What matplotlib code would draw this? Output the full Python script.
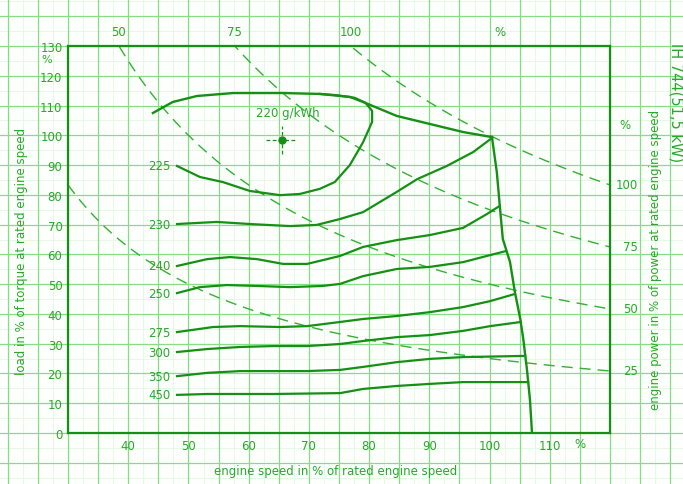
import numpy as np
import matplotlib.pyplot as plt

# engine map of the IH 744 (51,5 kW): speed / load in % of rated values
speed_ticks = [40, 50, 60, 70, 80, 90, 100, 110]
load_ticks = list(range(0, 131, 10))
power_levels = [25, 50, 75, 100]

full_load_speed = [44.1, 47.4, 51.4, 57.4, 65.7, 71.8, 76.8, 79.0, 84.6, 90.1, 95.6, 100.4]
full_load_load = [107.5, 111.2, 113.2, 114.2, 114.2, 113.9, 112.9, 111.2, 106.5, 103.8, 101.1, 99.4]

governor_speed = [100.4, 101.2, 101.7, 102.2, 103.4, 104.2, 105.1, 105.6, 106.2, 106.7, 107.05]
governor_load = [99.4, 87.7, 76.3, 65.2, 57.4, 47.4, 38.3, 31.6, 21.5, 11.4, 0]

# specific fuel consumption contours, g/kWh
c225_speed = [48.1, 51.9, 55.7, 60.2, 65.2, 68.5, 71.8, 74.3, 76.8, 79.0, 80.5, 80.5, 79.4, 77.6, 74.5, 71.8]
c225_load = [89.7, 86.0, 84.3, 81.3, 79.9, 80.3, 82.0, 84.3, 90.0, 97.7, 104.5, 108.2, 110.9, 112.6, 113.5, 113.9]
c230_speed = [48.1, 54.7, 60.2, 66.9, 71.3, 75.2, 79.0, 84.6, 88.0, 92.9, 97.3, 100.4]
c230_load = [70.2, 70.9, 70.2, 69.5, 69.9, 71.9, 74.2, 81.0, 85.3, 89.7, 94.4, 99.1]
c240_speed = [48.1, 53.1, 56.9, 61.4, 65.7, 69.7, 73.0, 75.2, 79.0, 84.6, 90.1, 95.6, 99.6, 101.7]
c240_load = [56.1, 58.4, 59.1, 58.4, 56.8, 56.8, 58.4, 59.5, 62.5, 64.8, 66.5, 68.9, 73.6, 76.3]
c250_speed = [48.1, 51.9, 56.4, 61.4, 66.9, 72.3, 75.2, 79.0, 84.6, 90.1, 95.6, 99.6, 102.7]
c250_load = [47.0, 49.0, 49.7, 49.4, 49.0, 49.4, 50.1, 52.7, 55.1, 55.8, 57.4, 59.5, 61.1]
c275_speed = [48.1, 54.1, 58.6, 65.2, 69.7, 75.2, 79.0, 84.6, 90.1, 95.6, 100.1, 104.2]
c275_load = [33.9, 35.6, 35.9, 35.6, 35.9, 37.3, 38.3, 39.3, 40.6, 42.3, 44.3, 46.7]
c300_speed = [48.1, 53.1, 58.6, 64.0, 69.7, 75.2, 79.0, 84.6, 90.1, 95.6, 100.1, 105.2]
c300_load = [27.2, 28.2, 28.9, 29.2, 29.2, 29.9, 30.9, 32.2, 32.9, 34.3, 35.9, 37.3]
c350_speed = [48.1, 53.1, 58.6, 64.0, 69.7, 75.2, 79.0, 84.6, 90.1, 95.6, 105.9]
c350_load = [19.1, 20.2, 20.8, 20.8, 20.8, 21.2, 22.2, 23.8, 24.9, 25.5, 25.9]
c450_speed = [48.1, 53.1, 64.0, 75.2, 79.0, 84.6, 90.1, 95.6, 106.4]
c450_load = [12.8, 13.1, 13.1, 13.4, 14.8, 15.8, 16.5, 17.1, 17.1]

contours = [("225", c225_speed, c225_load), ("230", c230_speed, c230_load),
            ("240", c240_speed, c240_load), ("250", c250_speed, c250_load),
            ("275", c275_speed, c275_load), ("300", c300_speed, c300_load),
            ("350", c350_speed, c350_load), ("450", c450_speed, c450_load)]

best_point = (65.5, 98.4)   # 220 g/kWh

line_c = "#159015"
text_c = "#2aa82a"
dash_c = "#34b034"
grid_c = "#86dd86"
fine_c = "#e4f7e4"

fig = plt.figure(figsize=(6.83, 4.85), dpi=100, facecolor="#fcfffc")
pos = [68 / 683, 51 / 485, 542 / 683, 387 / 485]
ax = fig.add_axes(pos)
ax.set_xlim(30, 120)
ax.set_ylim(0, 130)

# graph paper behind everything, aligned with the data grid
bg = fig.add_axes([0, 0, 1, 1], zorder=-1)
xs = 90 / pos[2]
ys = 130 / pos[3]
bg.set_xlim(30 - pos[0] * xs, 30 + (1 - pos[0]) * xs)
bg.set_ylim(-pos[1] * ys, (1 - pos[1]) * ys)
bg.axis("off")
for v in np.arange(17.5, 135, 2.5):
    bg.axvline(v, color=fine_c, lw=0.6)
for h in np.arange(-15, 150, 5):
    bg.axhline(h, color=fine_c, lw=0.6)
for v in np.arange(20, 135, 5):
    bg.axvline(v, color=grid_c, lw=0.9)
for h in np.arange(-10, 150, 10):
    bg.axhline(h, color=grid_c, lw=0.9)

ax.set_facecolor("none")
for s in ax.spines.values():
    s.set_color(line_c)
    s.set_linewidth(1.6)

# constant power lines
for p in power_levels:
    sp = np.linspace(30, 120, 300)
    ld = 100 * p / sp
    ax.plot(sp, ld, color=dash_c, lw=1.0, ls=(0, (8, 5)))
    if p * 100 / 130 > 30:
        ax.text(p * 100 / 130, 135, str(p), color=text_c, fontsize=8.5,
                ha="center", va="center", clip_on=False)
    ax.text(124.6, p * 100 / 120, str(p), color=text_c, fontsize=8.5,
            ha="right", va="center", clip_on=False)
ax.text(101.8, 135, "%", color=text_c, fontsize=8.5, ha="center", va="center", clip_on=False)
ax.text(123.4, 103.5, "%", color=text_c, fontsize=8.5, ha="right", va="center", clip_on=False)

ax.plot(full_load_speed, full_load_load, color=line_c, lw=1.7, solid_joinstyle="round")
ax.plot(governor_speed, governor_load, color=line_c, lw=1.7, solid_joinstyle="round")
for lab, sp, ld in contours:
    ax.plot(sp, ld, color=line_c, lw=1.6, solid_joinstyle="round")
    ax.text(sp[0] - 1.1, ld[0], lab, color=text_c, fontsize=8.5, ha="right", va="center")

bx, by = best_point
ax.plot(bx, by, "o", color=line_c, ms=5)
ax.plot([bx - 2.6, bx + 2.6], [by, by], color=line_c, lw=0.9, ls=(0, (3, 2)))
ax.plot([bx, bx], [by - 4.6, by + 4.6], color=line_c, lw=0.9, ls=(0, (3, 2)))
ax.text(bx + 1.0, by + 9.4, "220 g/kWh", color=text_c, fontsize=8.5, ha="center", va="center")

ax.set_xticks(speed_ticks)
ax.set_yticks(load_ticks)
ax.tick_params(length=0, labelcolor=text_c, labelsize=8.5, pad=4)
ax.text(115, -3.4, "%", color=text_c, fontsize=8.5, ha="center", va="center", clip_on=False)
ax.text(-0.03, 125.5, "%", transform=ax.get_yaxis_transform(), color=text_c,
        fontsize=8, ha="right", va="center")

fig.text(336 / 683, 1 - 472 / 485, "engine speed in % of rated engine speed", color=text_c,
         fontsize=8.5, ha="center", va="center")
fig.text(22 / 683, 1 - 251 / 485, "load in % of torque at rated engine speed", color=text_c,
         fontsize=8.5, rotation=90, ha="center", va="center")
fig.text(655 / 683, 1 - 260 / 485, "engine power in % of power at rated engine speed",
         color=text_c, fontsize=8.5, rotation=90, ha="center", va="center")
fig.text(676 / 683, 1 - 103 / 485, "IH 744(51,5 kW)", color=text_c, fontsize=10.5,
         rotation=-90, ha="center", va="center")

fig.savefig("out.png", dpi=100, facecolor=fig.get_facecolor())
